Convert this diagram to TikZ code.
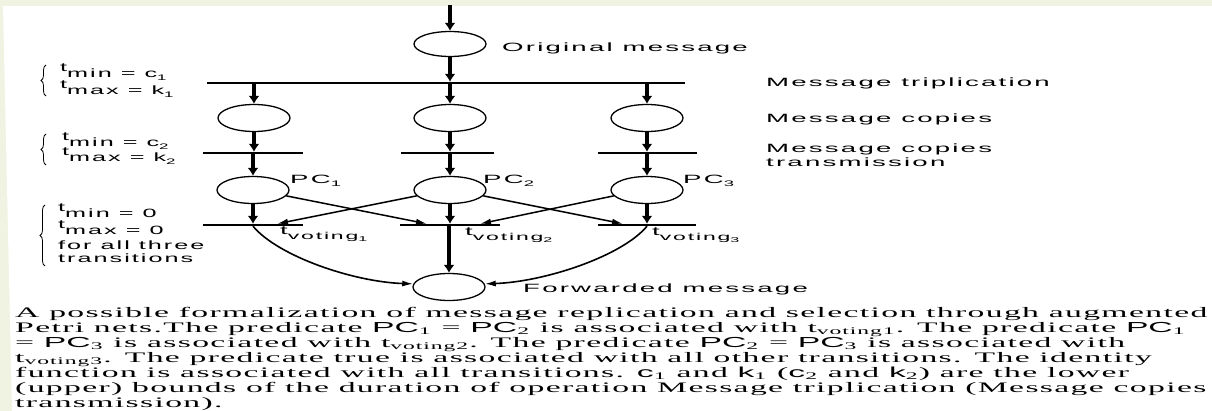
\documentclass[tikz,border=0pt]{standalone}
\usepackage{fontspec}
\usepackage{graphicx}
\usetikzlibrary{arrows.meta,decorations.pathreplacing,shapes.geometric,calc}

% fonts: lightly tracked sans for the net labels, serif for the caption
\newfontfamily\labfont[LetterSpace=8]{Liberation Sans}
\newfontfamily\capfont[LetterSpace=4]{Liberation Serif}
\newfontfamily\capsans{Liberation Sans}
\definecolor{slide}{RGB}{240,243,226}

% wide label text
\newcommand\lbl[1]{\scalebox{2.3}[1]{\fontsize{12}{14}\selectfont\labfont #1}}
\newcommand\sidelbl[1]{\scalebox{2.1}[1]{\fontsize{12}{14}\selectfont\labfont #1}}
\newcommand\sub[1]{\raisebox{-3pt}{\fontsize{8}{9}\selectfont #1}}
\newcommand\low[1]{\raisebox{-6pt}{#1}}
\newcommand\vsub[1]{\raisebox{-5pt}{\fontsize{10}{11}\selectfont voting\raisebox{-2pt}{\fontsize{7}{8}\selectfont #1}}}
\newcommand\cPC[1]{{\capsans PC}\textsubscript{#1}}
\newcommand\cvar[2]{{\capsans #1}\textsubscript{#2}}

\begin{document}
\begin{tikzpicture}[x=1pt,y=-1pt,
  place/.style={draw, ellipse, line width=1.3pt, minimum width=72pt, minimum height=27pt, inner sep=0pt},
  bar/.style={fill=black, rectangle, inner sep=0pt, minimum height=2pt},
  varrow/.style={line width=4pt, -{Latex[length=8pt,width=11pt]}},
  darrow/.style={line width=1.5pt, -{Latex[length=11pt,width=6pt]}},
  carrow/.style={line width=1.6pt, -{Latex[length=11pt,width=6pt]}},
  lab/.style={anchor=base west, inner sep=0pt},
  curly/.style={decorate, decoration={brace, amplitude=5pt}, line width=0.8pt},
]
% page and slide border
\useasboundingbox (0,0) rectangle (1212,411);
\fill[slide] (0,0) rectangle (1212,411);
\fill[white] (3,6) -- (1212,6) -- (1212,411) -- (12,411) -- cycle;

% places
\node[place, minimum height=25pt] (om) at (450,44) {};
\node[place] (cL) at (254,118) {};
\node[place] (cM) at (450,118) {};
\node[place] (cR) at (647,118) {};
\node[place] (pL) at (253,190) {};
\node[place] (pM) at (450,190) {};
\node[place] (pR) at (647,190) {};
\node[place] (fw) at (449,287) {};

% transitions
\node[bar, minimum width=478pt] (trip) at (446,83) {};
\node[bar, minimum width=100pt] (tL) at (253,153) {};
\node[bar, minimum width=93pt] (tM) at (447,153) {};
\node[bar, minimum width=99pt] (tR) at (647,153) {};
\node[bar, minimum width=100pt] (vL) at (253,225) {};
\node[bar, minimum width=100pt] (vM) at (450,225) {};
\node[bar, minimum width=98pt] (vR) at (647,225) {};

% arcs
\coordinate (src) at (450,5);
\draw[varrow] (src) -- (om);
\draw[varrow] (om) -- (om |- trip.north);
\foreach \c in {cL,cM,cR} \draw[varrow] (trip.south -| \c) -- (\c);
\draw[varrow] (cL) -- (cL |- tL.north);
\draw[varrow] (cM) -- (cM |- tM.north);
\draw[varrow] (cR) -- (cR |- tR.north);
\draw[varrow] (tL.south -| pL) -- (pL);
\draw[varrow] (tM.south -| pM) -- (pM);
\draw[varrow] (tR.south -| pR) -- (pR);
\draw[varrow] (pL) -- (pL |- vL.north);
\draw[varrow] (pM) -- (pM |- vM.north);
\draw[varrow] (pR) -- (pR |- vR.north);
\draw[darrow] (pL.-10) -- ($(vM.north)+(-23,0)$);
\draw[darrow] (pM.190) -- ($(vL.north)+(24,0)$);
\draw[darrow] (pM.-10) -- ($(vR.north)+(-24,0)$);
\draw[darrow] (pR.190) -- ($(vM.north)+(30,0)$);
\draw[varrow] (vM.south -| fw) -- (fw);
\draw[carrow] (vL.south) .. controls +(25,30) and +(-60,-2) .. (fw.175);
\draw[carrow] (vR.south) .. controls +(-25,30) and +(60,-2) .. (fw.5);

% labels
\node[lab] (lom) at (502,52) {\lbl{Original message}};
\node[lab] (ltrip) at (766,87) {\lbl{Message triplication}};
\node[lab] (lcopies) at (766,123) {\lbl{Message copies}};
\node[lab] (ltransA) at (766,153) {\lbl{Message copies}};
\node[lab] (ltransB) at (766,167) {\lbl{transmission}};
\node[lab] (lfw) at (523,293) {\lbl{Forwarded message}};
\node[lab] (lpL) at (290,184) {\lbl{PC\sub{1}}};
\node[lab] (lpM) at (483,184) {\lbl{PC\sub{2}}};
\node[lab] (lpR) at (683,184) {\lbl{PC\sub{3}}};
\node[lab] (lvL) at (280,235) {\lbl{t\vsub{1}}};
\node[lab] (lvM) at (465,236) {\lbl{t\vsub{2}}};
\node[lab] (lvR) at (652,236) {\lbl{t\vsub{3}}};

% timing annotations
\draw[curly] (46,96) -- (46,65);
\node[lab] (aA) at (60,72) {\sidelbl{t\low{min = c\sub{1}}}};
\node[lab] (aB) at (60,89) {\sidelbl{t\low{max = k\sub{1}}}};
\draw[curly] (46,165) -- (46,134);
\node[lab] (aC) at (62,141) {\sidelbl{t\low{min = c\sub{2}}}};
\node[lab] (aD) at (62,156) {\sidelbl{t\low{max = k\sub{2}}}};
\draw[curly] (45,266) -- (45,205);
\node[lab] (aE) at (58,212) {\sidelbl{t\low{min = 0}}};
\node[lab] (aF) at (58,229) {\sidelbl{t\low{max = 0}}};
\node[lab] (aG) at (58,250) {\sidelbl{for all three}};
\node[lab] (aH) at (58,263) {\sidelbl{transitions}};

% caption
\node[lab] (cap) at (15,317) {\resizebox{1192pt}{\height}{\capfont\fontsize{14.5}{15}\selectfont
\begin{tabular}[t]{@{}l@{}}
A possible formalization of message replication and selection through augmented\\
Petri nets.The predicate \cPC{1} = \cPC{2} is associated with t\textsubscript{voting1}. The predicate \cPC{1}\\
= \cPC{3} is associated with t\textsubscript{voting2}. The predicate \cPC{2} = \cPC{3} is associated with\\
t\textsubscript{voting3}. The predicate true is associated with all other transitions. The identity\\
function is associated with all transitions. \cvar{c}{1} and \cvar{k}{1} (\cvar{c}{2} and \cvar{k}{2}) are the lower\\
(upper) bounds of the duration of operation Message triplication (Message copies\\
transmission).
\end{tabular}}};
\end{tikzpicture}
\end{document}
